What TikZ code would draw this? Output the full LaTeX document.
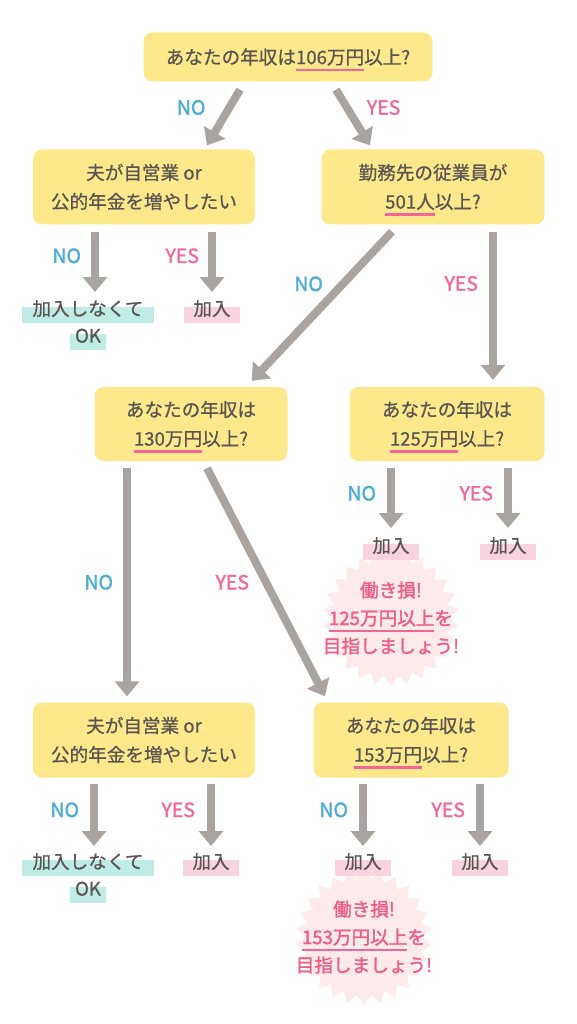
\documentclass[tikz,border=0pt]{standalone}
\usepackage{fontspec}
\setmainfont{Noto Sans CJK JP}
\newfontfamily\medfont{Noto Sans CJK JP}[FakeBold=0.8]
\newfontfamily\heavyfont{Noto Sans CJK JP}[FakeBold=1.6]
\usepackage{tikz}
\usetikzlibrary{arrows.meta,calc,shapes.geometric}

\definecolor{boxyellow}{HTML}{FDE98C}
\definecolor{textgray}{HTML}{5B5552}
\definecolor{noblue}{HTML}{4BADD3}
\definecolor{yespink}{HTML}{F2679A}
\definecolor{arrowgray}{HTML}{A9A49F}
\definecolor{hlcyan}{HTML}{BFEDE5}
\definecolor{hlpink}{HTML}{FAD3E1}
\definecolor{burstpink}{HTML}{FDEBEB}
\definecolor{burstred}{HTML}{EE5C88}

\newcommand{\pinkul}[1]{\setbox0\hbox{#1}\makebox[0pt][l]{\smash{\color{yespink}\rule[-7pt]{\wd0}{2.5pt}}}\box0}
\newcommand{\hlbar}[3][9pt]{\setbox0\hbox{#3}\makebox[0pt][l]{\smash{\hspace{-#1}\color{#2}\rule[-7.5pt]{\dimexpr\wd0+#1+#1\relax}{16pt}}}\box0}

\begin{document}
\begin{tikzpicture}[x=1pt, y=-1pt,
		ask/.style={fill=boxyellow, rounded corners=9pt, text=textgray, align=center, inner sep=0, font=\medfont\fontsize{18.6}{29}\selectfont},
		arr/.style={arrowgray, line width=8pt, -{Triangle[width=24pt,length=15pt]}},
		nolbl/.style={text=noblue, inner sep=0, font=\heavyfont\fontsize{19.5}{22}\selectfont},
		yeslbl/.style={text=yespink, inner sep=0, font=\heavyfont\fontsize{19.5}{22}\selectfont},
		res/.style={text=textgray, inner sep=0, anchor=north, align=center, font=\medfont\fontsize{18.6}{27}\selectfont},
		burst/.style={star, star points=26, star point ratio=1.17, minimum size=136pt, fill=burstpink, inner sep=0},
		bursttext/.style={text=burstred, align=center, inner sep=0, font=\heavyfont\fontsize{18.6}{28}\selectfont}]
		\fill[white] (0,0) rectangle (577,1024);
		\useasboundingbox (0,0) rectangle (577,1024);

		\node[ask, minimum width=289pt, minimum height=49pt] (q1) at (288,57) {あなたの年収は\pinkul{106万円}以上?};
		\node[ask, minimum width=222pt, minimum height=75pt] (q2) at (144,187) {夫が自営業 or\\公的年金を増やしたい};
		\node[ask, minimum width=223pt, minimum height=75pt] (q3) at (433,187) {勤務先の従業員が\\\pinkul{501人}以上?};
		\node[ask, minimum width=193pt, minimum height=74pt] (q4) at (191,424) {あなたの年収は\\\pinkul{130万円}以上?};
		\node[ask, minimum width=195pt, minimum height=74pt] (q5) at (447,424) {あなたの年収は\\\pinkul{125万円}以上?};
		\node[ask, minimum width=222pt, minimum height=75pt] (q6) at (144,740) {夫が自営業 or\\公的年金を増やしたい};
		\node[ask, minimum width=195pt, minimum height=75pt] (q7) at (411,740) {あなたの年収は\\\pinkul{153万円}以上?};

		\node[burst] (s5) at (391,618) {};
		\node[bursttext] at (s5) {働き損!\\\pinkul{125万円以上}を\\目指しましょう!};
		\node[burst] (s7) at (364,937) {};
		\node[bursttext] at (s7) {働き損!\\\pinkul{153万円以上}を\\目指しましょう!};

		\node[res] (r2a) at (88,300) {\hlbar[10pt]{hlcyan}{加入しなくて}\\\hlbar[5pt]{hlcyan}{OK}};
		\node[res] (r2b) at (212,300) {\hlbar{hlpink}{加入}};
		\node[res] (r5a) at (391,537) {\hlbar{hlpink}{加入}};
		\node[res] (r5b) at (508,537) {\hlbar{hlpink}{加入}};
		\node[res] (r6a) at (88,853) {\hlbar[10pt]{hlcyan}{加入しなくて}\\\hlbar[5pt]{hlcyan}{OK}};
		\node[res] (r6b) at (211,853) {\hlbar{hlpink}{加入}};
		\node[res] (r7a) at (363,853) {\hlbar{hlpink}{加入}};
		\node[res] (r7b) at (480,853) {\hlbar{hlpink}{加入}};

		\draw[arr] ($(q1.south)+(-48,8)$) -- node[nolbl, left=20pt, pos=.32] {NO} ($(q2.north)+(63,-4)$);
		\draw[arr] ($(q1.south)+(48,8)$) -- node[yeslbl, right=16pt, pos=.32] {YES} ($(q3.north)+(-63,-4)$);
		\draw[arr] ($(q2.south)+(-49,7)$) -- node[nolbl, left=10pt, pos=.4] {NO} ($(r2a.north)+(7,-8)$);
		\draw[arr] ($(q2.south)+(68,7)$) -- node[yeslbl, left=9pt, pos=.4] {YES} ($(r2b.north)+(0,-8)$);
		\draw[arr] ($(q3.south)+(-41,7)$) -- node[nolbl, left=16pt, pos=.35] {NO} ($(q4.north east)+(-36,-6)$);
		\draw[arr] ($(q3.south)+(60,7)$) -- node[yeslbl, left=11pt, pos=.35] {YES} ($(q5.north)+(46,-7)$);
		\draw[arr] ($(q4.south)+(-64,7)$) -- node[nolbl, left=10pt, pos=.5] {NO} ($(q6.north)+(-17,-6)$);
		\draw[arr] ($(q4.south)+(16,7)$) -- node[yeslbl, left=13pt, pos=.5] {YES} ($(q7.north)+(-86,-6)$);
		\draw[arr] ($(q5.south)+(-56,7)$) -- node[nolbl, left=11pt, pos=.42] {NO} ($(r5a.north)+(0,-9)$);
		\draw[arr] ($(q5.south)+(61,7)$) -- node[yeslbl, left=11pt, pos=.42] {YES} ($(r5b.north)+(0,-9)$);
		\draw[arr] ($(q6.south)+(-50,6)$) -- node[nolbl, left=11pt, pos=.42] {NO} ($(r6a.north)+(6,-7)$);
		\draw[arr] ($(q6.south)+(67,6)$) -- node[yeslbl, left=12pt, pos=.42] {YES} ($(r6b.north)+(0,-7)$);
		\draw[arr] ($(q7.south)+(-48,6)$) -- node[nolbl, left=11pt, pos=.42] {NO} ($(r7a.north)+(0,-7)$);
		\draw[arr] ($(q7.south)+(69,6)$) -- node[yeslbl, left=11pt, pos=.42] {YES} ($(r7b.north)+(0,-7)$);
	\end{tikzpicture}
\end{document}
